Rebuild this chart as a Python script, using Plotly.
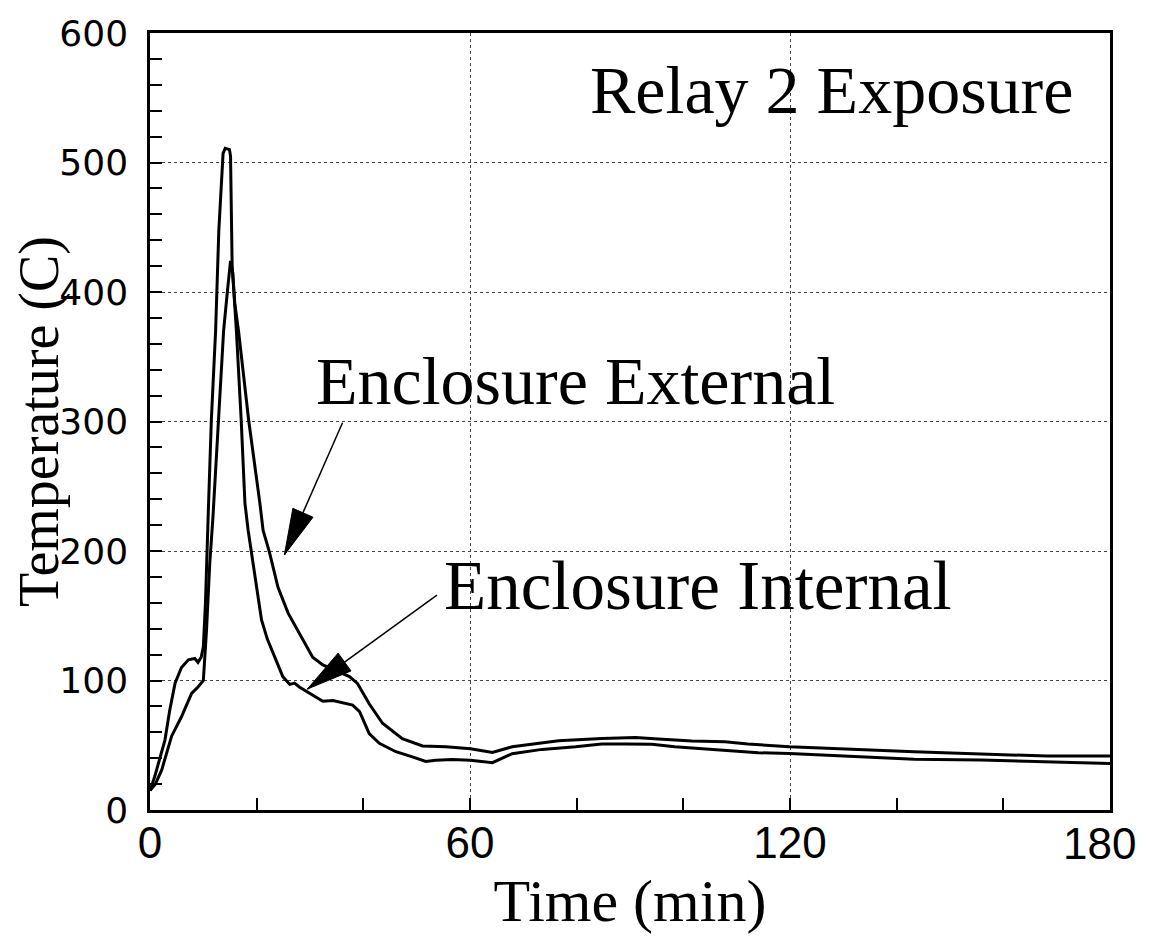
import plotly.graph_objects as go

# ---- data ----
time_internal = [0, 0.9, 2.8, 3.7, 4.7, 5.9, 7.2, 8.4, 9.0, 9.6, 10.0, 10.4, 10.9, 11.5, 12.3,
                 12.9, 13.7, 14.1, 14.9, 15.1, 15.4, 16.2, 17.1, 17.8, 18.4, 19.0, 20.0, 20.9,
                 22.0, 23.4, 24.9, 26.2, 27.1, 28.0, 29.9, 32.4, 34.3, 36.5, 38.0, 39.3, 41.1,
                 43.0, 46.1, 49.2, 51.7, 53.6, 56.7, 60.1, 64.2, 67.9, 73.5, 79.8, 84.7, 89.1,
                 94.1, 98.4, 104.7, 114.0, 119.9, 130.8, 143.3, 155.8, 168.2, 180]
temp_internal = [15, 26, 54, 77, 98, 110, 116, 117, 114, 118, 126, 160, 226, 301, 370,
                 447, 507, 511, 510, 505, 421, 370, 301, 237, 216, 199, 170, 147,
                 132, 118, 103, 97, 98, 95, 90, 84, 84.5, 82.5, 81, 76, 59,
                 51.5, 45, 41, 37.5, 38.5, 39, 38.5, 36.5, 43.5, 46.8, 48.8, 50.9, 51,
                 50.7, 48.8, 47.1, 44.2, 43.7, 41.7, 39.1, 38.6, 37.3, 36]

time_external = [0, 1.0, 2.2, 4.05, 5.9, 7.8, 9.0, 10.0, 10.6, 11.2, 11.8, 12.8, 13.8, 14.5,
                 15.1, 15.5, 15.9, 16.6, 18.5, 20.6, 21.2, 22.4, 24.0, 25.9, 28.7, 30.5, 32.4,
                 35.5, 37.4, 38.9, 41.1, 43.6, 47.3, 51.1, 55.5, 60.1, 64.2, 67.9, 76.6, 84.7,
                 91.0, 95.3, 101.6, 107.8, 112.1, 119.9, 130.8, 143.3, 155.8, 168.2, 180]
temp_external = [15, 20, 31, 57, 72, 90, 95, 100, 139, 190, 226, 301, 370, 400,
                 424, 415, 391, 370, 301, 237, 216, 199, 172, 152, 131, 118, 112,
                 106.7, 103, 97.7, 82, 67, 55, 49.4, 48.8, 47.3, 44.4, 48.8, 53.5, 55.3,
                 56, 54.8, 53.2, 52.7, 51, 48.8, 46.8, 45, 43.2, 41.7, 41.7]

x_ticks = [0, 60, 120, 180]
x_tick_labels = ["0", "60", "120", "180"]
y_ticks = [0, 100, 200, 300, 400, 500, 600]

# ---- layout constants (page body has an 8px margin) ----
W, H = 1133, 926
ML, MR, MT, MB = 142, 31, 25, 124
XR = [0, 180]
YR = [0, 600]
px_per_x = (W - ML - MR) / (XR[1] - XR[0])
px_per_y = (H - MT - MB) / (YR[1] - YR[0])

fig = go.Figure()
line_style = dict(color="black", width=3)
fig.add_trace(go.Scatter(x=time_external, y=temp_external, mode="lines",
                         line=line_style, name="Enclosure External", showlegend=False))
fig.add_trace(go.Scatter(x=time_internal, y=temp_internal, mode="lines",
                         line=line_style, name="Enclosure Internal", showlegend=False))

serif = "Liberation Serif, Times New Roman, serif"
xtick_font = dict(family="Liberation Sans, Arial, sans-serif", size=44, color="black")


def arrow(tail, tip, head_len=46, head_w=22):
    """tail/tip in data coords; head sizes in pixels."""
    tx, ty = tip
    dxp = (tail[0] - tip[0]) * px_per_x
    dyp = (tail[1] - tip[1]) * px_per_y
    L = (dxp ** 2 + dyp ** 2) ** 0.5
    ux, uy = dxp / L, dyp / L  # pixel unit vector from tip to tail
    bx, by = ux * head_len, uy * head_len
    nx, ny = -uy * head_w / 2, ux * head_w / 2
    p1 = (tx + (bx + nx) / px_per_x, ty + (by + ny) / px_per_y)
    p2 = (tx + (bx - nx) / px_per_x, ty + (by - ny) / px_per_y)
    fig.add_shape(type="line", x0=tail[0], y0=tail[1], x1=tip[0], y1=tip[1],
                  xref="x", yref="y", line=dict(color="black", width=1.5))
    path = f"M {tx},{ty} L {p1[0]},{p1[1]} L {p2[0]},{p2[1]} Z"
    fig.add_shape(type="path", path=path, xref="x", yref="y",
                  fillcolor="black", line=dict(color="black", width=1))


arrow((36.1, 299), (25.2, 197))
arrow((53.8, 166), (29.5, 93.4))

fig.add_annotation(x=82.1, y=556, xref="x", yref="y", text="Relay 2 Exposure",
                   showarrow=False, xanchor="left", yanchor="middle",
                   font=dict(family=serif, size=68, color="black"))
fig.add_annotation(x=30.8, y=331, xref="x", yref="y", text="Enclosure External",
                   showarrow=False, xanchor="left", yanchor="middle",
                   font=dict(family=serif, size=68, color="black"))
fig.add_annotation(x=54.8, y=173, xref="x", yref="y", text="Enclosure Internal",
                   showarrow=False, xanchor="left", yanchor="middle",
                   font=dict(family=serif, size=69, color="black"))

# last x tick label drawn as an annotation so it sits inside the page, as in the reference
fig.add_annotation(x=x_ticks[-1], y=0, xref="x", yref="paper", text=x_tick_labels[-1],
                   showarrow=False, xanchor="right", yanchor="middle", xshift=28, yshift=-33,
                   font=xtick_font)

grid = dict(showgrid=True, griddash="dot", gridcolor="#444", gridwidth=1)

fig.update_xaxes(range=XR, tickvals=x_ticks, ticktext=x_tick_labels[:-1] + [""],
                 ticks="inside", ticklen=12, tickwidth=1.5, tickcolor="black",
                 minor=dict(dtick=20, tick0=0, ticks="inside", ticklen=12, tickwidth=1.5,
                            tickcolor="black", showgrid=False),
                 showline=True, linewidth=2.5, linecolor="black", mirror=True,
                 zeroline=False, ticklabelstandoff=-8, automargin=False,
                 tickfont=xtick_font,
                 title=dict(text="Time (min)", standoff=18,
                            font=dict(family=serif, size=60, color="black")),
                 **grid)
fig.update_yaxes(range=YR, tickvals=y_ticks, ticktext=[str(v) for v in y_ticks],
                 ticks="inside", ticklen=12, tickwidth=1.5, tickcolor="black",
                 minor=dict(dtick=20, tick0=0, ticks="inside", ticklen=12, tickwidth=1.5,
                            tickcolor="black", showgrid=False),
                 showline=True, linewidth=2.5, linecolor="black", mirror=True,
                 zeroline=False, ticklabelstandoff=12, automargin=False,
                 tickfont=dict(family="DejaVu Sans, sans-serif", size=36, color="black"),
                 title=dict(text="Temperature (C)", standoff=29,
                            font=dict(family=serif, size=56, color="black")),
                 **grid)

fig.update_layout(width=W, height=H, margin=dict(l=ML, r=MR, t=MT, b=MB),
                  plot_bgcolor="white", paper_bgcolor="white", showlegend=False)

fig.write_html("out.html")
